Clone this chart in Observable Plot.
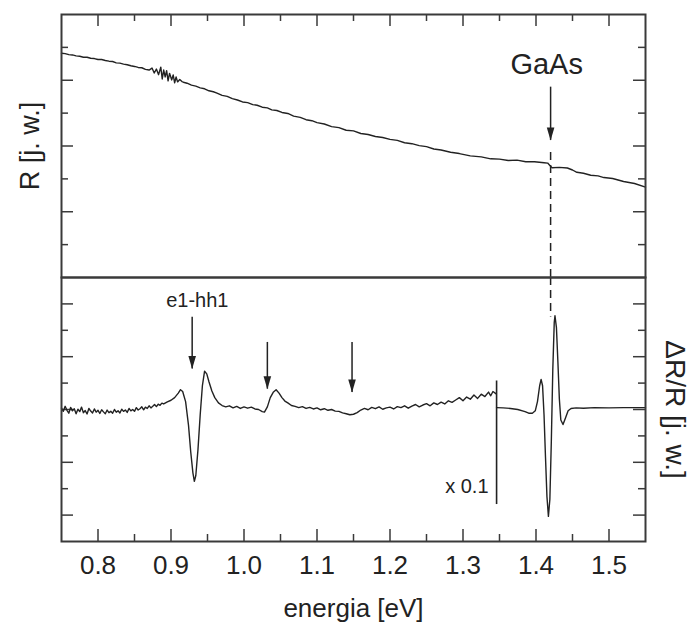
<!DOCTYPE html>
<html><head><meta charset="utf-8">
<script src="https://cdn.jsdelivr.net/npm/d3@7"></script>
<script src="https://cdn.jsdelivr.net/npm/@observablehq/plot@0.6"></script>
<style>
body{margin:0;background:#fff}
#wrap{position:relative;width:690px;height:623px;overflow:hidden}
#top,#bottom{position:absolute;left:0;width:690px}
#top{top:0}
#bottom{top:277px}
</style>
</head><body>
<div id="wrap"><div id="top"></div><div id="bottom"></div></div>
<script>
// ---- data ----
const xMajorTicks = [0.8, 0.9, 1.0, 1.1, 1.2, 1.3, 1.4, 1.5];
const xMinorTicks = [0.85, 0.95, 1.05, 1.15, 1.25, 1.35, 1.45];
const rMajorTicks = [2, 4, 6];
const rMinorTicks = [1, 3, 5, 7];
const dMajorTicks = [1, 3, 5, 7, 9];
const dMinorTicks = [2, 4, 6, 8];

// R [j. w.] (top panel)
const reflectance = [
[0.750,6.82],[0.755,6.81],[0.760,6.78],[0.765,6.77],[0.770,6.74],[0.775,6.73],[0.780,6.70],[0.785,6.70],
[0.790,6.67],[0.795,6.66],[0.800,6.63],[0.805,6.63],[0.810,6.60],[0.815,6.58],[0.820,6.57],[0.825,6.53],
[0.830,6.52],[0.835,6.49],[0.840,6.47],[0.845,6.44],[0.850,6.42],[0.855,6.39],[0.860,6.38],[0.865,6.33],
[0.870,6.31],[0.874,6.37],[0.877,6.22],[0.880,6.34],[0.883,6.17],[0.886,6.40],[0.888,6.04],[0.890,6.31],
[0.892,6.10],[0.894,6.29],[0.896,5.98],[0.898,6.21],[0.901,6.01],[0.903,6.16],[0.905,5.92],[0.907,6.10],
[0.909,5.95],[0.912,6.02],[0.915,5.96],[0.917,5.94],[0.922,5.91],[0.928,5.85],[0.934,5.82],[0.940,5.77],
[0.946,5.74],[0.952,5.68],[0.958,5.65],[0.963,5.61],[0.970,5.54],[0.977,5.51],[0.984,5.44],[0.991,5.40],
[0.998,5.34],[1.005,5.32],[1.012,5.26],[1.018,5.24],[1.025,5.18],[1.032,5.16],[1.038,5.10],[1.045,5.08],
[1.052,5.02],[1.060,4.99],[1.068,4.91],[1.077,4.87],[1.085,4.80],[1.093,4.77],[1.100,4.71],[1.110,4.67],
[1.120,4.59],[1.130,4.56],[1.140,4.48],[1.150,4.46],[1.160,4.38],[1.170,4.35],[1.180,4.29],[1.190,4.26],
[1.200,4.20],[1.210,4.17],[1.220,4.10],[1.230,4.07],[1.240,4.01],[1.250,3.98],[1.260,3.91],[1.270,3.88],
[1.283,3.81],[1.295,3.77],[1.310,3.70],[1.325,3.67],[1.338,3.61],[1.350,3.60],[1.362,3.56],[1.374,3.57],
[1.386,3.52],[1.398,3.52],[1.411,3.49],[1.416,3.48],[1.419,3.41],[1.422,3.34],[1.432,3.35],[1.443,3.33],
[1.450,3.27],[1.456,3.20],[1.465,3.17],[1.475,3.11],[1.485,3.09],[1.493,3.04],[1.505,3.01],[1.520,2.92],
[1.535,2.86],[1.550,2.75]
];

// ΔR/R [j. w.] (bottom panel), part before the x0.1 separator
const modulationLeft = [
[0.7500,5.05],[0.7525,4.93],[0.7550,5.12],[0.7575,4.97],[0.7600,4.86],[0.7625,5.08],[0.7650,4.95],[0.7675,5.03],
[0.7700,4.84],[0.7725,5.01],[0.7750,4.92],[0.7775,5.09],[0.7800,4.88],[0.7825,4.96],[0.7850,4.83],[0.7875,5.04],
[0.7900,4.94],[0.7925,4.87],[0.7950,5.02],[0.7975,4.90],[0.8000,4.97],[0.8025,4.85],[0.8050,4.99],[0.8075,4.91],
[0.8100,4.84],[0.8125,4.98],[0.8150,4.88],[0.8175,4.93],[0.8200,4.86],[0.8225,5.00],[0.8250,4.90],[0.8275,4.95],
[0.8300,4.87],[0.8325,5.01],[0.8350,4.93],[0.8375,4.98],[0.8400,4.89],[0.8425,5.04],[0.8450,4.95],[0.8475,5.00],
[0.8500,4.93],[0.8525,5.07],[0.8550,4.98],[0.8575,5.03],[0.8600,5.10],[0.8625,4.99],[0.8650,5.09],[0.8675,5.04],
[0.8700,5.14],[0.8725,5.06],[0.8750,5.12],[0.8775,5.19],[0.8800,5.11],[0.8825,5.20],[0.8850,5.16],[0.8875,5.24],
[0.8900,5.21],[0.8950,5.29],[0.900,5.35],[0.905,5.45],
[0.910,5.62],[0.913,5.75],[0.916,5.68],[0.920,5.30],[0.924,4.40],[0.927,3.40],[0.930,2.60],[0.932,2.28],
[0.934,2.50],[0.937,3.50],[0.940,4.80],[0.943,5.90],[0.946,6.45],[0.949,6.35],[0.952,6.05],[0.956,5.70],
[0.960,5.45],[0.965,5.25],[0.970,5.15],[0.975,5.10],[0.980,5.14],[0.985,5.06],[0.990,5.12],[0.995,5.04],
[1.000,5.10],[1.005,5.05],[1.010,5.09],[1.015,5.02],[1.020,5.00],[1.025,4.92],[1.028,4.90],[1.032,5.10],
[1.036,5.45],[1.040,5.65],[1.044,5.75],[1.048,5.62],[1.052,5.45],[1.056,5.32],[1.060,5.25],[1.065,5.15],
[1.070,5.12],[1.075,5.07],[1.080,5.11],[1.085,5.04],[1.090,5.08],[1.095,5.02],[1.100,5.06],[1.105,4.99],
[1.110,5.03],[1.115,4.97],[1.120,5.00],[1.125,4.94],[1.130,4.93],[1.135,4.87],[1.140,4.84],[1.145,4.80],
[1.150,4.82],[1.155,4.88],[1.160,4.98],[1.165,5.04],[1.170,4.99],[1.175,5.08],[1.180,5.03],[1.185,5.10],
[1.190,5.01],[1.195,5.06],[1.200,5.09],[1.205,5.02],[1.210,5.11],[1.215,5.07],[1.220,5.14],[1.225,5.05],
[1.230,5.13],[1.235,5.19],[1.240,5.10],[1.245,5.17],[1.250,5.22],[1.255,5.14],[1.260,5.25],[1.265,5.19],
[1.270,5.28],[1.275,5.21],[1.280,5.33],[1.285,5.27],[1.290,5.36],[1.295,5.45],[1.300,5.33],[1.305,5.47],
[1.310,5.39],[1.315,5.55],[1.320,5.42],[1.325,5.58],[1.330,5.49],[1.335,5.66],[1.338,5.52],[1.341,5.68],
[1.345,5.60]
];
// part after the separator (scaled x 0.1)
const modulationRight = [
[1.346,5.07],[1.355,5.06],[1.365,5.04],[1.375,5.00],[1.385,4.92],[1.390,4.86],[1.395,4.86],[1.399,4.95],
[1.402,5.30],[1.405,5.90],[1.407,6.14],[1.409,5.90],[1.411,4.80],[1.413,3.20],[1.415,1.70],[1.417,0.95],
[1.419,1.60],[1.421,3.80],[1.423,6.50],[1.425,8.30],[1.426,8.55],[1.428,8.10],[1.430,6.80],[1.432,5.40],
[1.434,4.60],[1.437,4.43],[1.440,4.65],[1.444,4.95],[1.448,5.04],[1.455,5.06],[1.465,5.05],[1.480,5.07],
[1.500,5.06],[1.520,5.07],[1.550,5.07]
];

// annotations (energy in eV, panel units)
const gaasArrowTop = [{e: 1.42, from: 5.79, to: 4.17}];
const gaasDashTop = [{e: 1.42, from: 3.80, to: 0}];
const gaasDashBottom = [{e: 1.42, from: 10, to: 8.5}];
const gaasLabel = [{e: 1.4146, v: 6.48, text: "GaAs"}];
const arrowsBottom = [
  {e: 0.929, from: 8.49, to: 6.53},
  {e: 1.032, from: 7.54, to: 5.77},
  {e: 1.148, from: 7.54, to: 5.64}
];
const peakLabel = [{e: 0.936, v: 9.13, text: "e1-hh1"}];
const separator = [{e: 1.346, from: 1.40, to: 6.08}];
const scaleLabel = [{e: 1.335, v: 2.09, text: "x 0.1"}];

// ---- drawing ----
const INK = "#222";
const FRAME = "#3a3a3a";
const FONT = "'Liberation Sans', Arial, Helvetica, sans-serif";
const W = 690, ML = 61, MR = 45;
const innerW = W - ML - MR;
const downHead = {draw(ctx) { ctx.moveTo(0, 0); ctx.lineTo(-3.8, -13); ctx.lineTo(3.8, -13); ctx.closePath(); }};

function tickMarks(yMajor, yMinor, innerH, xSide) {
  const s = {stroke: FRAME, strokeWidth: 1.5};
  const m = [
    Plot.ruleY(yMajor, {...s, insetRight: innerW - 12}),
    Plot.ruleY(yMajor, {...s, insetLeft: innerW - 12}),
    Plot.ruleY(yMinor, {...s, insetRight: innerW - 7}),
    Plot.ruleY(yMinor, {...s, insetLeft: innerW - 7})
  ];
  if (xSide === "top") {
    m.push(Plot.ruleX(xMajorTicks, {...s, insetBottom: innerH - 12}));
    m.push(Plot.ruleX(xMinorTicks, {...s, insetBottom: innerH - 7}));
  } else {
    m.push(Plot.ruleX(xMajorTicks, {...s, insetTop: innerH - 12}));
    m.push(Plot.ruleX(xMinorTicks, {...s, insetTop: innerH - 7}));
  }
  return m;
}

const topH = 277, topMT = 14;
const topPlot = Plot.plot({
  width: W, height: topH,
  marginTop: topMT, marginBottom: 0, marginLeft: ML, marginRight: MR,
  x: {domain: [0.75, 1.55], axis: null},
  y: {domain: [0, 8], axis: null},
  style: {overflow: "visible", background: "none", fontFamily: FONT, color: INK},
  marks: [
    ...tickMarks(rMajorTicks, rMinorTicks, topH - topMT, "top"),
    Plot.line(reflectance, {x: d => d[0], y: d => d[1], stroke: INK, strokeWidth: 1.4}),
    Plot.ruleX(gaasArrowTop, {x: "e", y1: "from", y2: "to", stroke: INK, strokeWidth: 1.5}),
    Plot.dot(gaasArrowTop, {x: "e", y: "to", symbol: downHead, fill: INK, stroke: null}),
    Plot.ruleX(gaasDashTop, {x: "e", y1: "from", y2: "to", stroke: INK, strokeWidth: 1.5, strokeDasharray: "8,5"}),
    Plot.text(gaasLabel, {x: "e", y: "v", text: "text", fontSize: 29, fill: INK, lineAnchor: "middle"}),
    Plot.text(["R [j. w.]"], {frameAnchor: "left", dx: -31, rotate: -90, fontSize: 27, fill: INK, textAnchor: "middle", lineAnchor: "middle"}),
    Plot.frame({stroke: FRAME, strokeWidth: 2})
  ]
});
document.getElementById("top").appendChild(topPlot);

const botH = 346, botMB = 82;
const bottomPlot = Plot.plot({
  width: W, height: botH,
  marginTop: 0, marginBottom: botMB, marginLeft: ML, marginRight: MR,
  x: {domain: [0.75, 1.55], axis: null},
  y: {domain: [0, 10], axis: null},
  style: {overflow: "visible", background: "none", fontFamily: FONT, color: INK},
  marks: [
    ...tickMarks(dMajorTicks, dMinorTicks, botH - botMB, "bottom"),
    Plot.ruleX(gaasDashBottom, {x: "e", y1: "from", y2: "to", stroke: INK, strokeWidth: 1.5, strokeDasharray: "8,5"}),
    Plot.line(modulationLeft, {x: d => d[0], y: d => d[1], stroke: INK, strokeWidth: 1.4}),
    Plot.line(modulationRight, {x: d => d[0], y: d => d[1], stroke: INK, strokeWidth: 1.4}),
    Plot.ruleX(separator, {x: "e", y1: "from", y2: "to", stroke: INK, strokeWidth: 1.6}),
    Plot.ruleX(arrowsBottom, {x: "e", y1: "from", y2: "to", stroke: INK, strokeWidth: 1.5}),
    Plot.dot(arrowsBottom, {x: "e", y: "to", symbol: downHead, fill: INK, stroke: null}),
    Plot.text(peakLabel, {x: "e", y: "v", text: "text", fontSize: 20, fill: INK, lineAnchor: "middle"}),
    Plot.text(scaleLabel, {x: "e", y: "v", text: "text", fontSize: 20, fill: INK, textAnchor: "end", lineAnchor: "middle"}),
    Plot.text(xMajorTicks, {x: d => d, frameAnchor: "bottom", dy: 24, text: d => d.toFixed(1), fontSize: 26, fill: INK, lineAnchor: "middle"}),
    Plot.text(["energia [eV]"], {frameAnchor: "bottom", dy: 67, fontSize: 26, fill: INK, lineAnchor: "middle"}),
    Plot.text(["ΔR/R [j. w.]"], {frameAnchor: "right", dx: 29, rotate: 90, fontSize: 28, fill: INK, textAnchor: "middle", lineAnchor: "middle"}),
    Plot.frame({stroke: FRAME, strokeWidth: 2})
  ]
});
document.getElementById("bottom").appendChild(bottomPlot);
</script>
</body></html>
